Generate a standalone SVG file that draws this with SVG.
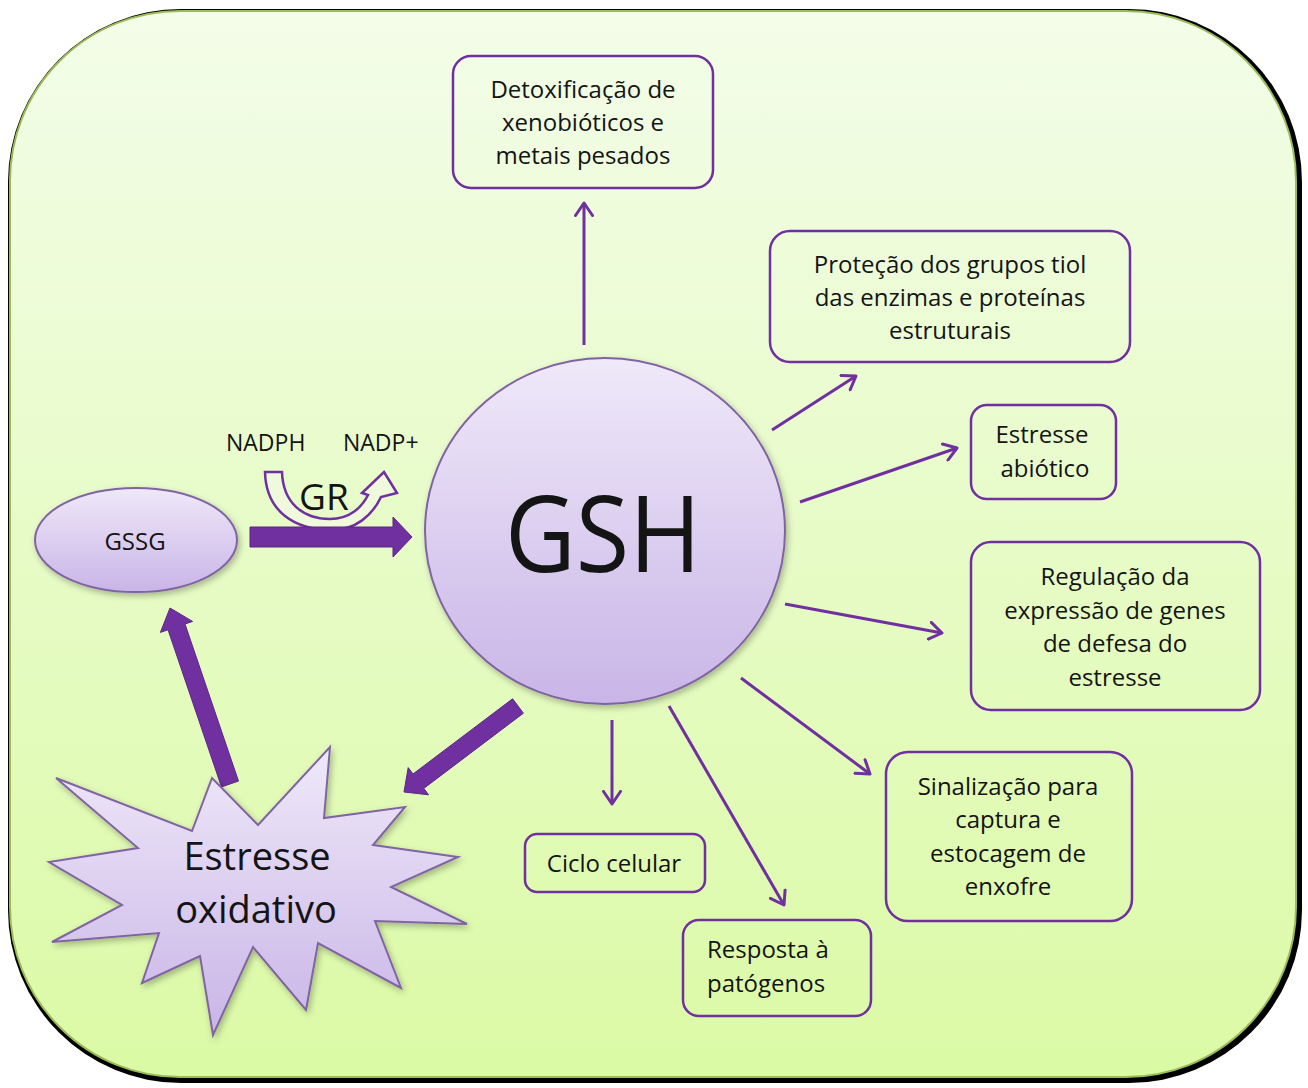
<svg xmlns="http://www.w3.org/2000/svg" width="1308" height="1088" viewBox="0 0 1308 1088">
<defs>
<linearGradient id="bg" x1="0" y1="0" x2="0" y2="1">
<stop offset="0" stop-color="#f3fde9"/>
<stop offset="1" stop-color="#dbfaa5"/>
</linearGradient>
<linearGradient id="lav" x1="0" y1="0" x2="0" y2="1">
<stop offset="0" stop-color="#efe9f9"/>
<stop offset="1" stop-color="#c9b5e7"/>
</linearGradient>
<filter id="sh" x="-10%" y="-10%" width="125%" height="125%">
<feDropShadow dx="2" dy="3" stdDeviation="3" flood-color="#000" flood-opacity="0.28"/>
</filter>
<marker id="ah" viewBox="0 0 16 20" refX="14" refY="10" markerWidth="16" markerHeight="20" markerUnits="userSpaceOnUse" orient="auto">
<path d="M1.5,1.5 L14,10 L1.5,18.5" fill="none" stroke="#7030a0" stroke-width="3" stroke-linecap="round" stroke-linejoin="round"/>
</marker>
</defs>
<style>
.box{fill:none;stroke:#7030a0;stroke-width:2.5}
.t{font-family:"Open Sans","Noto Sans","Liberation Sans",sans-serif;font-size:24px;fill:#141414;text-anchor:middle}
.thin{fill:none;stroke:#7030a0;stroke-width:3;marker-end:url(#ah)}
.fat{fill:#7030a0;stroke:#5e2589;stroke-width:1}
.lav{fill:url(#lav);stroke:#8064a2;stroke-width:2}
</style>

<g id="background">
<rect x="8" y="9" width="1294" height="1074" rx="173" ry="173" fill="#000"/>
<rect x="10" y="11" width="1286" height="1066" rx="170" ry="170" fill="url(#bg)" stroke="#9bbb59" stroke-width="2"/>
</g>

<g id="gr-arrow">
<path d="M 265 472 L 282 472 C 283 503, 303 519, 330 519 C 350 519, 362 507, 368 495 L 362 493 L 384 472 L 397 493 L 381 497 C 372 516, 355 530, 332 530 C 295 530, 266 512, 265 472 Z" fill="#eefadb" stroke="#7030a0" stroke-width="2.5" stroke-linejoin="miter"/>
<text class="t" x="299" y="510" style="text-anchor:start;font-size:37px">GR</text>
<text class="t" x="226" y="451" style="text-anchor:start;font-size:23px">NADPH</text>
<text class="t" x="343" y="451" style="text-anchor:start;font-size:23px">NADP+</text>
</g>

<g id="connectors">
<polygon class="fat" points="250,527 393,527 393,517 412,537 393,557 393,547 250,547"/>
<polygon class="fat" points="238.5,781.1 185.0,624.0 192.6,621.4 170,608 160.4,632.4 168.0,629.8 221.5,786.9"/>
<polygon class="fat" points="523.4,713.2 423.8,788.4 428.6,794.8 404,792 408.2,767.6 413.0,774.0 512.6,698.8"/>
<line class="thin" x1="584" y1="345" x2="584" y2="203"/>
<line class="thin" x1="772" y1="430" x2="856" y2="376"/>
<line class="thin" x1="800" y1="502" x2="957" y2="448"/>
<line class="thin" x1="785" y1="604" x2="942" y2="633"/>
<line class="thin" x1="741" y1="678" x2="870" y2="774"/>
<line class="thin" x1="669" y1="706" x2="784" y2="905"/>
<line class="thin" x1="612" y1="720" x2="612" y2="804"/>
</g>

<g id="gsh">
<ellipse class="lav" cx="605" cy="531" rx="180" ry="173" filter="url(#sh)"/>
<text class="t" x="603" y="572" style="font-size:106px" textLength="196" lengthAdjust="spacingAndGlyphs">GSH</text>
</g>

<g id="gssg">
<ellipse class="lav" cx="136" cy="540" rx="101" ry="52" filter="url(#sh)"/>
<text class="t" x="135" y="550" style="font-size:24px">GSSG</text>
</g>

<g id="estresse-oxidativo">
<polygon class="lav" filter="url(#sh)" points="56,778 192,831 212,778 258,825 330,747 324,818 405,807 373,845 458,857 391,887 467,924 375,921 401,988 318,943 306,1010 253,947 213,1035 200,956 142,983 159,933 52,942 122,905 49,862 138,848"/>
<text class="t" x="257" y="870" style="font-size:38px">Estresse</text>
<text class="t" x="256" y="923" style="font-size:38px">oxidativo</text>
</g>

<g id="detox">
<rect class="box" x="453" y="56" width="260" height="132" rx="18"/>
<text class="t" x="583" y="98">Detoxificação de</text>
<text class="t" x="583" y="131">xenobióticos e</text>
<text class="t" x="583" y="164">metais pesados</text>
</g>

<g id="protecao">
<rect class="box" x="770" y="231" width="360" height="131" rx="20"/>
<text class="t" x="950" y="273">Proteção dos grupos tiol</text>
<text class="t" x="950" y="306">das enzimas e proteínas</text>
<text class="t" x="950" y="339">estruturais</text>
</g>

<g id="estresse-abiotico">
<rect class="box" x="971" y="405" width="145" height="94" rx="16"/>
<text class="t" x="1042" y="443">Estresse</text>
<text class="t" x="1045" y="477">abiótico</text>
</g>

<g id="regulacao">
<rect class="box" x="971" y="542" width="289" height="168" rx="20"/>
<text class="t" x="1115" y="585">Regulação da</text>
<text class="t" x="1115" y="619">expressão de genes</text>
<text class="t" x="1115" y="652">de defesa do</text>
<text class="t" x="1115" y="686">estresse</text>
</g>

<g id="sinalizacao">
<rect class="box" x="886" y="752" width="246" height="169" rx="22"/>
<text class="t" x="1008" y="795">Sinalização para</text>
<text class="t" x="1008" y="828">captura e</text>
<text class="t" x="1008" y="862">estocagem de</text>
<text class="t" x="1008" y="895">enxofre</text>
</g>

<g id="ciclo">
<rect class="box" x="525" y="834" width="180" height="58" rx="12"/>
<text class="t" x="614" y="872">Ciclo celular</text>
</g>

<g id="resposta">
<rect class="box" x="683" y="920" width="188" height="96" rx="16"/>
<text class="t" x="707" y="958" style="text-anchor:start">Resposta à</text>
<text class="t" x="707" y="992" style="text-anchor:start">patógenos</text>
</g>
</svg>
